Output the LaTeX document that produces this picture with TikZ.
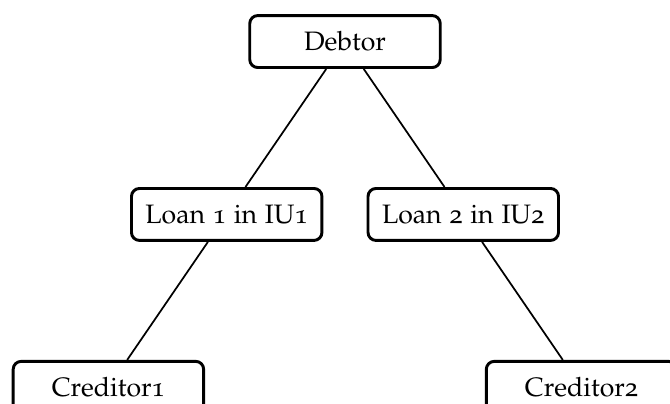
\documentclass[tikz,border=0pt]{standalone}
\usepackage[T1]{fontenc}
\usepackage[osf]{mathpazo}
\usetikzlibrary{positioning}
\tikzset{
  party/.style = {draw, rounded corners=3pt, line width=1.1pt, align=center,
  minimum width=71.5pt, minimum height=19.5pt, inner sep=2pt},
  loan/.style = {party},
  link/.style = {line width=0.65pt}
}

\begin{document}
\begin{tikzpicture}
\useasboundingbox (-129.5pt,-135.9pt) rectangle (122pt,15.6pt);
\node [party] (debtor) {Debtor};
% the two loans
\node [loan, below=44.3pt of debtor, xshift=-44.4pt] (loan1) {Loan 1 in IU1};
\node [loan, below=44.3pt of debtor, xshift=44.4pt] (loan2) {Loan 2 in IU2};
% the creditors
\node [party, below=44.3pt of loan1, xshift=-44.4pt] (cred1) {Creditor1};
\node [party, below=44.3pt of loan2, xshift=44.4pt] (cred2) {Creditor2};
% lines between the nodes
\draw [link] (debtor) -- (loan1);
\draw [link] (debtor) -- (loan2);
\draw [link] (loan1) -- (cred1);
\draw [link] (loan2) -- (cred2);
\end{tikzpicture}
\end{document}
